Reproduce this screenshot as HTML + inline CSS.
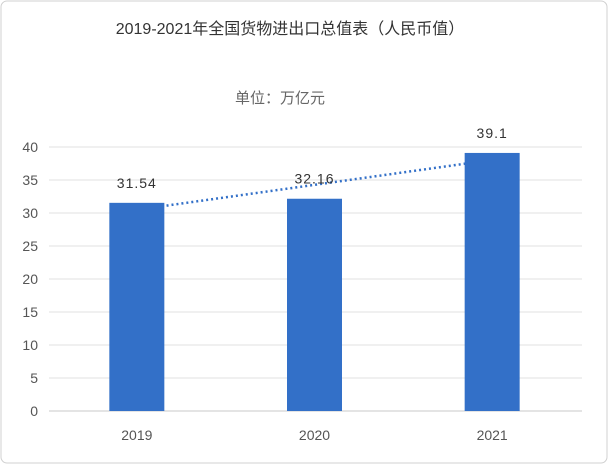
<!DOCTYPE html>
<html><head><meta charset="utf-8"><style>
body{margin:0;background:#fff;}
svg{display:block;font-family:"Liberation Sans","Noto Sans CJK SC",sans-serif;}
</style></head><body>
<svg width="609" height="465">
<rect x="1" y="1" width="606" height="462" rx="6" fill="#fff" stroke="#d0d0d0"/>
<text x="290" y="34" text-anchor="middle" font-size="16" fill="#333">2019-2021年全国货物进出口总值表（人民币值）</text>
<text x="280" y="103" text-anchor="middle" font-size="15" fill="#666">单位：万亿元</text>
<g id="grid"></g><g id="marks"></g>
</svg>
<script>
const categories=["2019","2020","2021"];
const values=[31.54,32.16,39.1];
const valueLabels=["31.54","32.16","39.1"];
const yTicks=[0,5,10,15,20,25,30,35,40];
const NS="http://www.w3.org/2000/svg";
const x0=49,x1=582,yBase=411,yTop=147,yMax=40;
const y=v=>yBase-(v/yMax)*(yBase-yTop);
const band=(x1-x0)/categories.length;
const cx=i=>x0+band*(i+0.5)-1;
const bw=55;
const g=document.getElementById('grid'),m=document.getElementById('marks');
function mk(t,a,p){const e=document.createElementNS(NS,t);for(const k in a)e.setAttribute(k,a[k]);p.appendChild(e);return e;}
yTicks.forEach(t=>{
 const l=mk('line',{x1:x0,x2:x1,y1:y(t),y2:y(t),stroke:t===0?'#c8c8c8':'#e0e0e0','stroke-width':1},g);
 
 
 const tx=mk('text',{x:38,y:y(t)+5,'text-anchor':'end','font-size':14,fill:'#555'},g);
 tx.textContent=t;
 
 
});
// linear trendline
const n=values.length,mx=(n-1)/2,my=values.reduce((a,b)=>a+b)/n;
let sxy=0,sxx=0;values.forEach((v,i)=>{sxy+=(i-mx)*(v-my);sxx+=(i-mx)*(i-mx);});
const slope=sxy/sxx,icpt=my-slope*mx;
const tl=mk('line',{x1:cx(0),y1:y(icpt),x2:cx(n-1),y2:y(icpt+slope*(n-1)),stroke:'#3370c8','stroke-width':2.5,'stroke-dasharray':'2 3'},m);


values.forEach((v,i)=>{
 const r=mk('rect',{x:cx(i)-bw/2,y:y(v),width:bw,height:yBase-y(v),fill:'#3370c8'},m);
 
 
 const lt=mk('text',{x:cx(i),y:y(v)-15,'text-anchor':'middle','font-size':14,fill:'#333','letter-spacing':'1'},m);
 lt.textContent=valueLabels[i];
 
 
 const ct=mk('text',{x:cx(i),y:440,'text-anchor':'middle','font-size':14,fill:'#555'},m);
 ct.textContent=categories[i];
 
 
});
</script>
</body></html>
